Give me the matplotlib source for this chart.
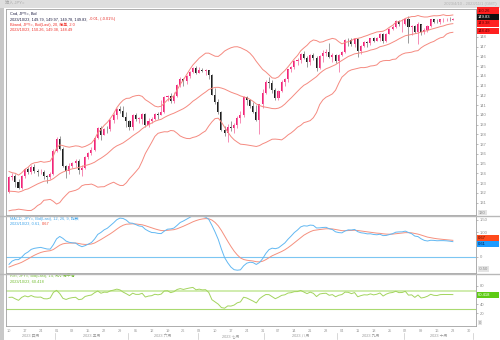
import numpy as np
import pandas as pd
import matplotlib
matplotlib.use('Agg')
import matplotlib.pyplot as plt
import matplotlib.transforms as mtransforms
from matplotlib.patches import Rectangle
from matplotlib.lines import Line2D

plt.rcParams['font.family'] = ['Liberation Sans', 'Noto Sans CJK SC']

# closes before the first plotted day (Feb 1 - Apr 7), only used to seed the indicators
warmup_closes = [128.90, 128.65, 131.20, 132.60, 131.05, 131.35, 131.45, 131.40, 132.40, 133.10,
                 134.10, 133.95, 134.20, 134.25, 134.90, 134.90, 134.70, 136.45, 136.20, 136.20,
                 136.15, 136.75, 135.85, 135.90, 137.20, 137.30, 136.10, 134.95, 133.25, 134.25,
                 133.45, 133.70, 131.85, 131.30, 132.50, 131.40, 130.85, 130.70, 131.45, 130.90,
                 132.85, 132.75, 132.80, 132.45, 131.70, 131.30, 131.80, 132.15]

# daily USD/JPY bid, 2023-04-10 .. 2023-10-23
opens = [132.15, 133.60, 133.70, 133.10, 132.55, 133.75, 134.45, 134.10, 134.70, 134.25,
         134.15, 134.20, 133.70, 133.65, 133.95, 136.30, 137.50, 136.55, 134.75, 134.25,
         134.80, 135.10, 135.25, 134.35, 134.55, 135.70, 136.10, 136.40, 137.60, 138.65,
         137.95, 138.60, 138.55, 139.45, 139.95, 140.60, 140.40, 139.80, 139.35, 138.80,
         139.95, 139.60, 139.60, 140.10, 139.00, 139.40, 139.55, 140.15, 140.00, 140.30,
         141.80, 141.90, 141.45, 141.90, 143.10, 143.70, 143.50, 144.00, 144.45, 144.80,
         144.30, 144.65, 144.50, 144.60, 144.05, 142.10, 141.30, 140.35, 138.50, 138.10,
         138.80, 138.70, 139.00, 139.70, 140.00, 141.80, 141.50, 140.90, 140.30, 139.50,
         141.15, 142.30, 143.35, 143.30, 142.55, 141.75, 142.45, 143.40, 143.70, 144.70,
         144.95, 145.55, 145.60, 146.30, 145.85, 145.40, 146.20, 145.85, 144.85, 146.10,
         146.40, 146.50, 145.90, 146.20, 145.55, 146.20, 146.50, 147.70, 147.65, 147.30,
         147.80, 146.60, 147.10, 147.45, 147.40, 147.85, 147.60, 147.85, 148.35, 147.60,
         148.35, 148.85, 149.05, 149.60, 149.30, 149.35, 149.85, 149.00, 149.10, 148.50,
         149.30, 148.50, 148.70, 149.10, 149.80, 149.55, 149.50, 149.80, 149.85, 149.85,
         149.79]
highs = [133.75, 134.00, 133.90, 133.40, 133.85, 134.55, 134.70, 134.90, 134.95, 134.50,
         134.45, 134.40, 133.80, 134.20, 136.55, 137.75, 137.80, 136.70, 134.90, 135.10,
         135.20, 135.45, 135.45, 134.85, 135.80, 136.25, 136.70, 137.70, 138.75, 138.90,
         138.70, 138.90, 139.60, 140.25, 140.75, 140.95, 140.90, 140.30, 139.50, 140.10,
         140.25, 139.80, 140.20, 140.20, 139.70, 139.75, 140.25, 140.30, 141.50, 141.95,
         142.00, 142.25, 142.35, 143.20, 143.85, 143.80, 144.10, 144.55, 144.90, 145.05,
         144.90, 144.80, 144.70, 144.65, 144.20, 142.80, 141.60, 140.45, 138.90, 139.10,
         139.40, 139.15, 139.90, 140.40, 141.95, 141.95, 141.65, 141.30, 141.00, 141.15,
         142.70, 143.55, 143.85, 143.55, 142.75, 142.60, 143.55, 143.80, 144.75, 145.00,
         145.60, 145.85, 146.40, 146.55, 146.10, 146.30, 146.40, 146.10, 146.15, 146.65,
         146.75, 147.35, 146.40, 146.25, 146.25, 146.60, 147.80, 147.85, 147.85, 147.85,
         147.85, 147.20, 147.55, 147.55, 147.90, 147.95, 148.00, 148.45, 148.45, 148.45,
         148.95, 149.20, 149.70, 149.70, 149.80, 149.90, 150.15, 149.20, 149.25, 149.50,
         149.35, 148.90, 149.20, 149.85, 149.85, 149.80, 149.85, 149.90, 149.95, 150.00,
         149.97]
lows = [132.00, 133.30, 132.60, 132.40, 132.40, 133.55, 133.90, 133.95, 134.00, 133.70,
        133.90, 133.40, 133.00, 133.40, 133.80, 136.20, 136.40, 134.70, 133.50, 133.95,
        134.60, 134.70, 133.90, 133.75, 134.45, 135.50, 135.90, 136.30, 137.50, 137.45,
        137.90, 138.10, 138.40, 139.20, 139.60, 140.20, 139.75, 138.80, 138.45, 138.45,
        139.40, 139.20, 139.05, 138.80, 138.80, 139.20, 139.50, 139.60, 139.95, 140.20,
        141.45, 141.25, 141.25, 141.85, 142.90, 143.00, 143.20, 143.75, 144.30, 144.20,
        144.30, 144.40, 144.05, 143.70, 142.05, 141.10, 140.15, 138.40, 137.85, 137.25,
        138.35, 138.15, 138.70, 139.20, 139.80, 141.05, 140.70, 140.20, 139.40, 138.05,
        140.75, 142.20, 142.80, 142.25, 141.55, 141.50, 142.40, 143.00, 143.40, 144.40,
        144.70, 145.10, 145.30, 145.70, 144.95, 145.10, 145.60, 144.55, 144.70, 145.40,
        146.10, 145.80, 145.40, 145.35, 144.45, 146.00, 146.40, 147.10, 147.05, 147.00,
        145.90, 146.30, 146.95, 147.00, 147.20, 147.50, 147.55, 147.60, 147.35, 147.50,
        148.30, 148.70, 148.95, 149.10, 148.55, 149.25, 147.40, 148.20, 148.40, 147.30,
        148.20, 148.35, 148.50, 149.05, 149.40, 149.40, 149.35, 149.55, 149.60, 149.65,
        149.78]
closes = [133.60, 133.70, 133.10, 132.55, 133.75, 134.45, 134.10, 134.70, 134.25, 134.15,
          134.20, 133.70, 133.65, 133.95, 136.30, 137.50, 136.55, 134.75, 134.25, 134.80,
          135.10, 135.25, 134.35, 134.55, 135.70, 136.10, 136.40, 137.60, 138.65, 137.95,
          138.60, 138.55, 139.45, 139.95, 140.60, 140.40, 139.80, 139.35, 138.80, 139.95,
          139.60, 139.60, 140.10, 139.00, 139.40, 139.55, 140.15, 140.00, 140.30, 141.80,
          141.90, 141.45, 141.90, 143.10, 143.70, 143.50, 144.00, 144.45, 144.80, 144.30,
          144.65, 144.50, 144.60, 144.05, 142.10, 141.30, 140.35, 138.50, 138.10, 138.80,
          138.70, 139.00, 139.70, 140.00, 141.80, 141.50, 140.90, 140.30, 139.50, 141.15,
          142.30, 143.35, 143.30, 142.55, 141.75, 142.45, 143.40, 143.70, 144.70, 144.95,
          145.55, 145.60, 146.30, 145.85, 145.40, 146.20, 145.85, 144.85, 146.10, 146.40,
          146.50, 145.90, 146.20, 145.55, 146.20, 146.50, 147.70, 147.65, 147.30, 147.80,
          146.60, 147.10, 147.45, 147.40, 147.85, 147.60, 147.85, 148.35, 147.60, 148.35,
          148.85, 149.05, 149.60, 149.30, 149.35, 149.85, 149.00, 149.10, 148.50, 149.30,
          148.50, 148.70, 149.10, 149.80, 149.55, 149.50, 149.80, 149.85, 149.85, 149.84,
          149.83]

month_names = ['2023 四月', '2023 五月', '2023 六月', '2023 七月', '2023 八月', '2023 九月', '2023 十月']
price_ticks = list(range(131, 149))
macd_ticks = [0, 1.0, 1.5]
macd_tick_labels = ['0', '1.00', '1.50']
rsi_ticks = [20, 40, 80]
band_last = ['150.26', '149.38', '148.49']
close_last = '149.83'
macd_last = ['0.61', '0.67']
rsi_last = '60.418'

UP = '#f2247a'
DOWN = '#1c1c1c'
BAND = '#f58a80'
MACD_C = '#62b8f2'
SIG_C = '#f5907e'
RSI_C = '#a3d45e'
GRAY = '#8c8c8c'
W, H = 500, 340

# indicators over warm-up + visible closes
series = pd.Series(warmup_closes + closes)
mid = series.rolling(20).mean()
sd = series.rolling(20).std(ddof=0)
upper, lower = mid + 2 * sd, mid - 2 * sd
macd = series.ewm(span=12, adjust=False).mean() - series.ewm(span=26, adjust=False).mean()
signal = macd.ewm(span=9, adjust=False).mean()
delta = series.diff()
gain = delta.clip(lower=0).ewm(alpha=1 / 14, adjust=False).mean()
loss = (-delta.clip(upper=0)).ewm(alpha=1 / 14, adjust=False).mean()
rsi = 100 - 100 / (1 + gain / loss)
k = len(warmup_closes)
mid, upper, lower = mid[k:].values, upper[k:].values, lower[k:].values
macd, signal, rsi = macd[k:].values, signal[k:].values, rsi[k:].values

n = len(closes)
x = np.arange(n)
dates = pd.bdate_range('2023-04-10', '2023-11-01')
xlim = (-0.95, 147.3)


def fig_rect(px0, py0, px1, py1):
    # pixel box with top-left origin -> figure fraction
    return [px0 / W, 1 - py1 / H, (px1 - px0) / W, (py1 - py0) / H]


fig = plt.figure(figsize=(W / 100, H / 100), dpi=100)
fig.patch.set_facecolor('white')

# window chrome: title strip and left border
fig.add_artist(Rectangle((0, 1 - 8 / H), 1, 8 / H, transform=fig.transFigure,
                         facecolor='#dedede', edgecolor='none'))
fig.add_artist(Rectangle((0, 0), 4 / W, 1 - 8 / H, transform=fig.transFigure,
                         facecolor='#c8c8c8', edgecolor='none'))
fig.text(5 / W, 1 - 4 / H, '输入 JPY=', fontsize=3, color='#a8a8a8', va='center')
fig.text(497 / W, 1 - 4 / H, '2023/4/10 - 2023/11/1 (GMT)', fontsize=3, color='#b4b4b4',
         va='center', ha='right')

ax = fig.add_axes(fig_rect(6, 9, 476, 215))
ax_macd = fig.add_axes(fig_rect(6, 216, 476, 273))
ax_rsi = fig.add_axes(fig_rect(6, 274, 476, 326))

for a in (ax, ax_macd, ax_rsi):
    a.set_xlim(*xlim)
    for s in a.spines.values():
        s.set_color('#a0a0a0')
        s.set_linewidth(0.6)
    a.yaxis.tick_right()
    a.tick_params(axis='y', labelsize=3, colors=GRAY, length=1.5, width=0.4, pad=1)
    a.tick_params(axis='x', length=0)
    a.set_xticks([])

# candles
up = np.array(closes) >= np.array(opens)
body_lo = np.minimum(opens, closes)
body_h = np.maximum(np.abs(np.array(closes) - np.array(opens)), 0.04)
ax.vlines(x[up], np.array(lows)[up], np.array(highs)[up], color='#f57aa8', lw=0.6)
ax.vlines(x[~up], np.array(lows)[~up], np.array(highs)[~up], color='#8a8a8a', lw=0.6)
ax.bar(x[up], body_h[up], bottom=body_lo[up], width=0.65, color=UP, lw=0)
ax.bar(x[~up], body_h[~up], bottom=body_lo[~up], width=0.65, color=DOWN, lw=0)

for band in (upper, mid, lower):
    ax.plot(x, band, color=BAND, lw=0.7)
ax.set_ylim(129.74, 150.87)
ax.set_yticks(price_ticks)

# legend text, top left of each panel
t = ax.text(0.0085, 0.976, 'Cnd, JPY=, Bid', transform=ax.transAxes, fontsize=2.8,
            color='#1a1a40', va='center')
t = ax.text(0.0085, 0.951, '2023/10/23, 149.79, 149.97, 149.78, 149.83, ', transform=ax.transAxes,
            fontsize=2.8, color='#1a1a40', va='center')
ax.annotate('-0.01, (-0.01%)', xy=(1, 0.5), xycoords=t, fontsize=2.8, color='#e8302a', va='center')
ax.text(0.0085, 0.924, 'Bband, JPY=, Bid(Last), 20, 简单, 2.0', transform=ax.transAxes,
        fontsize=2.8, color='#f0302a', va='center')
ax.text(0.0085, 0.900, '2023/10/23, ' + ', '.join(band_last), transform=ax.transAxes,
        fontsize=2.8, color='#f0302a', va='center')

# MACD panel
ax_macd.axhline(0, color='#7cc6f2', lw=0.8)
ax_macd.plot(x, signal, color=SIG_C, lw=0.7)
ax_macd.plot(x, macd, color=MACD_C, lw=0.7)
ax_macd.set_ylim(-0.64, 1.64)
ax_macd.set_yticks(macd_ticks)
ax_macd.set_yticklabels(macd_tick_labels)
ax_macd.text(0.0085, 0.947, 'MACD, JPY=, Bid(Last), 12, 26, 9, 指数', transform=ax_macd.transAxes,
             fontsize=2.8, color='#3aa2ea', va='center')
t = ax_macd.text(0.0085, 0.86, '2023/10/23, ' + macd_last[0] + ', ', transform=ax_macd.transAxes,
                 fontsize=2.8, color='#3aa2ea', va='center')
ax_macd.annotate(macd_last[1], xy=(1, 0.5), xycoords=t, fontsize=2.8, color='#f0402a', va='center')

# RSI panel
ax_rsi.axhline(70, color='#cdeaa8', lw=1.3)
ax_rsi.axhline(30, color='#a9da70', lw=0.8)
ax_rsi.plot(x, rsi, color=RSI_C, lw=0.7)
ax_rsi.set_ylim(-7.66, 106.1)
ax_rsi.set_yticks(rsi_ticks)
ax_rsi.text(0.0085, 0.96, 'RSI, JPY=, Bid(Last), 14, 威尔德平滑', transform=ax_rsi.transAxes,
            fontsize=2.8, color='#72bc30', va='center')
ax_rsi.text(0.0085, 0.846, '2023/10/23, ' + rsi_last, transform=ax_rsi.transAxes,
            fontsize=2.8, color='#72bc30', va='center')

# date axis: Monday day numbers, month names between month starts
mondays = [i for i, d in enumerate(dates) if d.weekday() == 0]
ax_rsi.set_xticks(mondays)
ax_rsi.set_xticklabels([dates[i].strftime('%d') for i in mondays])
ax_rsi.tick_params(axis='x', labelsize=2.8, colors='#9a9a9a', length=0, pad=2)
starts = [i for i in range(1, len(dates)) if dates[i].month != dates[i - 1].month]
edges = [xlim[0]] + [s - 0.5 for s in starts]
trans = mtransforms.blended_transform_factory(ax_rsi.transData, ax_rsi.transAxes)
for name, a, b in zip(month_names, edges[:-1], edges[1:]):
    ax_rsi.text((a + b) / 2, -0.19, name, transform=trans, fontsize=2.8, color='#9a9a9a',
                ha='center', va='center', clip_on=False)
for e in edges[1:]:
    ax_rsi.add_line(Line2D([e, e], [-0.13, -0.25], transform=trans, color='#c8c8c8',
                           lw=0.5, clip_on=False))

# panel separators
for py in (215.5, 273.5):
    fig.add_artist(Line2D([0, 1], [1 - py / H] * 2, transform=fig.transFigure,
                          color='#b8b8b8', lw=1.0))

# last-value boxes on the price scale
def value_box(py, text, face, color):
    fig.add_artist(Rectangle((477 / W, 1 - (py + 3) / H), 22 / W, 6 / H,
                             transform=fig.transFigure, facecolor=face, edgecolor='none'))
    fig.text(478 / W, 1 - py / H, text, fontsize=3, color=color, va='center', ha='left')


value_box(10.5, band_last[0], '#ff2020', '#5a0000')
value_box(17, close_last, '#101010', 'white')
value_box(23.5, band_last[1], '#ff2020', '#5a0000')
value_box(31, band_last[2], '#ff2020', '#5a0000')
value_box(238, macd_last[1], '#ff4a1c', '#4a0a00')
value_box(244, macd_last[0], '#1e9cff', '#001a40')
value_box(295, rsi_last, '#5ecb14', 'white')

# boxed bottom labels of each scale
for py, text in ((212.5, '130'), (269, '-0.50'), (322.5, '0')):
    fig.text(479 / W, 1 - py / H, text, fontsize=3, color='#8a8a8a', va='center', ha='left',
             bbox=dict(boxstyle='square,pad=0.2', facecolor='#e4e4e4', edgecolor='none'))

fig.savefig('out.png', dpi=100)
